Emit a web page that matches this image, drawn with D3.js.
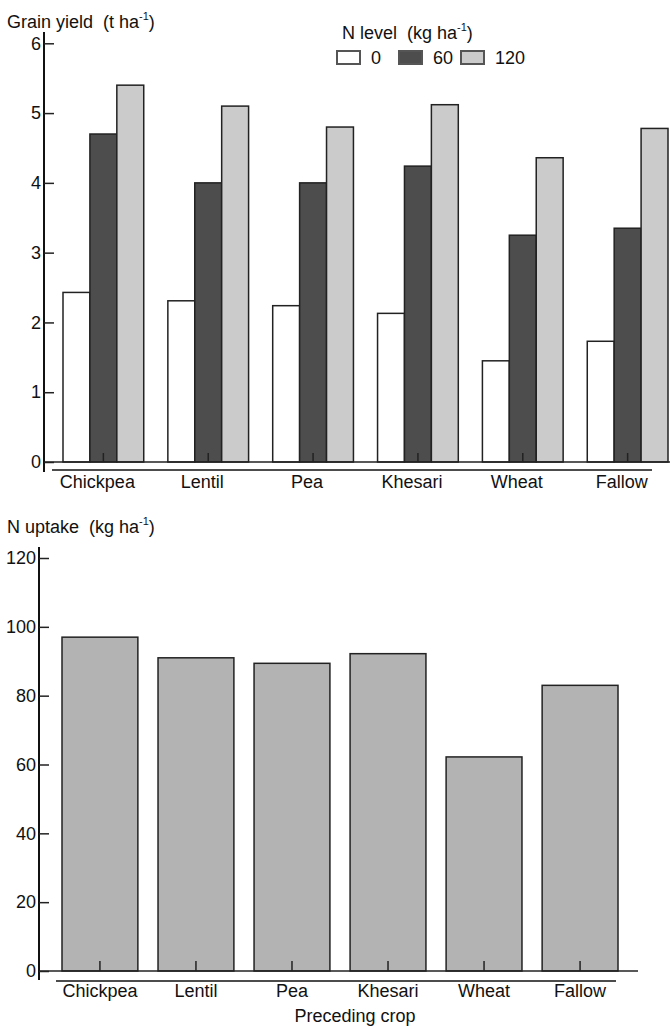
<!DOCTYPE html>
<html>
<head>
<meta charset="utf-8">
<script src="https://cdn.jsdelivr.net/npm/d3@7"></script>
<style>
    body { margin: 0; background: #fff; }
    svg { display: block; font-family: "Liberation Sans", Arial, sans-serif; }
    .axis text { font-size: 18px; fill: #111; }
    .axis line { stroke: #222; stroke-width: 1.5; }
</style>
</head>
<body>
<div id="chart"></div>
<script>
// Preceding crops and N levels
const crops = ['Chickpea', 'Lentil', 'Pea', 'Khesari', 'Wheat', 'Fallow'];
const nLevels = ['0', '60', '120'];

// Grain yield (t/ha) per N level
const yieldN0 = [2.43, 2.31, 2.24, 2.13, 1.45, 1.73];
const yieldN60 = [4.70, 4.00, 4.00, 4.24, 3.25, 3.35];
const yieldN120 = [5.40, 5.10, 4.80, 5.12, 4.36, 4.78];

// N uptake (kg/ha)
const nUptake = [97, 91, 89.4, 92.2, 62.2, 83];

const yieldTicks = [0, 1, 2, 3, 4, 5, 6];
const uptakeTicks = [0, 20, 40, 60, 80, 100, 120];

const W = 670, H = 1029;
const fills = {'0': '#ffffff', '60': '#4d4d4d', '120': '#cbcbcb'};

const svg = d3.select('#chart').append('svg')
    .attr('width', W)
    .attr('height', H);

// title with superscript unit
function unitTitle(g, x, y, label, unit) {
    const t = g.append('text')
        .attr('x', x).attr('y', y)
        .style('font-size', '18px')
        .style('fill', '#111');
    t.append('tspan').text(label + '\u00a0 (' + unit + ' ha');
    t.append('tspan').attr('dy', -8).style('font-size', '11px').text('-1');
    t.append('tspan').attr('dy', 8).text(')');
    return t;
}

// ---------- Top: grain yield ----------
function renderYield() {
    const g = svg.append('g');
    const axisX = 44, base = 462;

    const x = d3.scaleBand().domain(crops).range([63, 668]).paddingInner(0.23);
    const xs = d3.scaleBand().domain(nLevels).range([0, x.bandwidth()]);
    const y = d3.scaleLinear().domain([0, 6]).range([base, 43.3]);

    const rows = crops.map((c, i) => ({
        crop: c,
        values: [
            {level: '0', v: yieldN0[i]},
            {level: '60', v: yieldN60[i]},
            {level: '120', v: yieldN120[i]}
        ]
    }));

    const groups = g.selectAll('.grp')
        .data(rows)
        .enter().append('g')
        .attr('transform', d => `translate(${x(d.crop)},0)`);

    groups.selectAll('rect')
        .data(d => d.values)
        .enter().append('rect')
        .attr('x', d => xs(d.level))
        .attr('y', d => y(d.v))
        .attr('width', xs.bandwidth())
        .attr('height', d => base - y(d.v))
        .attr('fill', d => fills[d.level])
        .attr('stroke', '#222')
        .attr('stroke-width', 1.5);

    // baseline and left axis
    g.append('line').attr('x1', axisX).attr('x2', W).attr('y1', base).attr('y2', base)
        .attr('stroke', '#222').attr('stroke-width', 1.5);
    g.append('line').attr('x1', axisX).attr('x2', axisX).attr('y1', 32).attr('y2', 472)
        .attr('stroke', '#111').attr('stroke-width', 2);

    g.append('g')
        .attr('class', 'axis')
        .attr('transform', `translate(${axisX},0)`)
        .call(d3.axisLeft(y).tickValues(yieldTicks).tickFormat(d3.format('d')).tickSize(-10).tickPadding(3))
        .call(a => a.select('.domain').remove());

    // small centre ticks + crop labels
    const xa = g.append('g')
        .attr('class', 'axis')
        .attr('transform', `translate(0,${base})`)
        .call(d3.axisBottom(x).tickSize(-9).tickPadding(13))
        .call(a => a.select('.domain').remove());
    xa.selectAll('text').attr('dx', -6);

    g.append('line').attr('x1', 52).attr('x2', 652).attr('y1', 470).attr('y2', 470)
        .attr('stroke', '#111').attr('stroke-width', 1.5);

    unitTitle(g, 7, 28, 'Grain yield', 't');

    // legend
    const lg = g.append('g');
    unitTitle(lg, 342, 39, 'N level', 'kg');
    const legendX = d3.scalePoint().domain(nLevels).range([337, 461]);
    const item = lg.selectAll('.item')
        .data(nLevels)
        .enter().append('g')
        .attr('transform', d => `translate(${legendX(d)},51)`);
    item.append('rect')
        .attr('width', 23).attr('height', 13)
        .attr('fill', d => fills[d])
        .attr('stroke', '#555').attr('stroke-width', 2);
    item.append('text')
        .attr('x', 34).attr('y', 13)
        .style('font-size', '18px')
        .style('fill', '#111')
        .text(d => d);
}

// ---------- Bottom: N uptake ----------
function renderUptake() {
    const g = svg.append('g');
    const axisX = 39, base = 971;

    const x = d3.scaleBand().domain(crops).range([62, 618]).paddingInner(0.21);
    const y = d3.scaleLinear().domain([0, 120]).range([base, 558]);

    g.selectAll('.bar')
        .data(crops.map((c, i) => ({crop: c, v: nUptake[i]})))
        .enter().append('rect')
        .attr('x', d => x(d.crop))
        .attr('y', d => y(d.v))
        .attr('width', x.bandwidth())
        .attr('height', d => base - y(d.v))
        .attr('fill', '#b3b3b3')
        .attr('stroke', '#222')
        .attr('stroke-width', 1.5);

    g.append('line').attr('x1', axisX).attr('x2', 638).attr('y1', base).attr('y2', base)
        .attr('stroke', '#222').attr('stroke-width', 1.5);
    g.append('line').attr('x1', axisX).attr('x2', axisX).attr('y1', 547).attr('y2', 980)
        .attr('stroke', '#111').attr('stroke-width', 2);

    g.append('g')
        .attr('class', 'axis')
        .attr('transform', `translate(${axisX},0)`)
        .call(d3.axisLeft(y).tickValues(uptakeTicks).tickSize(-10).tickPadding(3))
        .call(a => a.select('.domain').remove());

    g.append('g')
        .attr('class', 'axis')
        .attr('transform', `translate(0,${base})`)
        .call(d3.axisBottom(x).tickSize(-10).tickPadding(13))
        .call(a => a.select('.domain').remove());

    g.append('line').attr('x1', 56).attr('x2', 616).attr('y1', 981).attr('y2', 981)
        .attr('stroke', '#111').attr('stroke-width', 1.5);

    unitTitle(g, 7, 533, 'N uptake', 'kg');

    g.append('text')
        .attr('x', 355).attr('y', 1022)
        .attr('text-anchor', 'middle')
        .style('font-size', '18px')
        .style('fill', '#111')
        .text('Preceding crop');
}

renderYield();
renderUptake();
</script>
</body>
</html>
